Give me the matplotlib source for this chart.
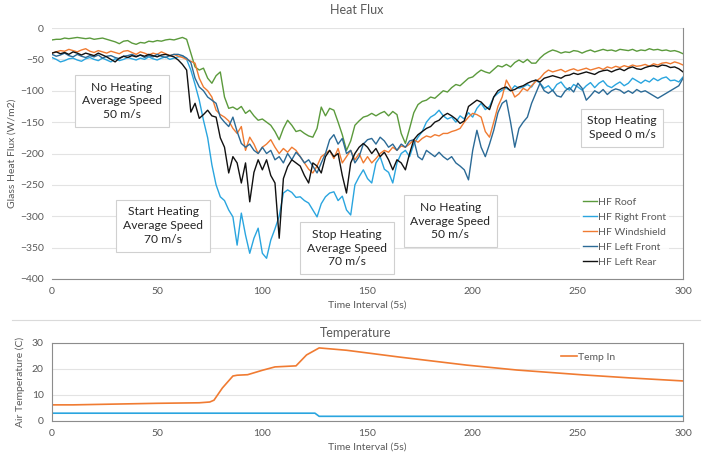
import numpy as np
import matplotlib.pyplot as plt
from matplotlib.lines import Line2D

plt.rcParams['font.family'] = ['Lato', 'DejaVu Sans']

# heat flux samples, one every 2 intervals
time = np.arange(0, 301, 2)

hf_roof = [
    -19, -18, -18, -16, -17, -16, -15, -16, -17, -16,
    -18, -17, -16, -18, -20, -22, -25, -21, -20, -24,
    -26, -23, -24, -21, -22, -20, -21, -19, -18, -19,
    -17, -15, -18, -40, -62, -67, -64, -80, -88, -76,
    -70, -110, -128, -126, -130, -125, -136, -131, -140, -147,
    -145, -150, -155, -165, -178, -160, -147, -155, -165, -163,
    -168, -172, -174, -160, -126, -140, -128, -131, -150, -170,
    -195, -180, -155, -148, -142, -140, -136, -140, -136, -133,
    -140, -133, -138, -168, -184, -160, -135, -122, -117, -115,
    -110, -112, -106, -100, -102, -95, -90, -92, -86, -80,
    -78, -72, -67, -70, -72, -66, -60, -62, -58, -62,
    -55, -51, -55, -50, -56, -56, -48, -42, -38, -35,
    -37, -40, -38, -39, -36, -37, -40, -37, -35, -38,
    -36, -34, -36, -35, -37, -34, -35, -36, -34, -37,
    -35, -36, -33, -35, -34, -36, -35, -37, -36, -38, -41,
]
hf_right_front = [
    -47, -50, -54, -52, -49, -48, -51, -53, -49, -47,
    -50, -52, -48, -51, -54, -49, -52, -50, -47, -49,
    -51, -48, -50, -46, -49, -51, -48, -46, -50, -48,
    -46, -44, -50, -67, -90, -115, -147, -175, -218, -250,
    -269, -275, -290, -301, -346, -295, -330, -359, -335, -319,
    -359, -367, -338, -320, -300, -263, -258, -262, -270, -269,
    -275, -279, -290, -301, -280, -269, -263, -261, -275, -268,
    -290, -298, -250, -237, -226, -240, -247, -215, -205, -225,
    -230, -247, -215, -200, -195, -205, -185, -174, -165, -150,
    -142, -138, -131, -140, -145, -142, -150, -140, -145, -135,
    -142, -128, -120, -130, -125, -110, -104, -99, -96, -100,
    -92, -96, -94, -90, -94, -83, -88, -96, -92, -100,
    -90, -86, -95, -99, -90, -94, -99, -92, -87, -95,
    -88, -84, -92, -95, -90, -86, -92, -88, -80, -84,
    -88, -83, -86, -80, -84, -80, -78, -84, -83, -86, -78,
]
hf_windshield = [
    -40, -38, -36, -37, -34, -36, -38, -35, -33, -37,
    -39, -36, -38, -40, -37, -39, -41, -37, -36, -39,
    -42, -38, -40, -43, -40, -42, -38, -41, -44, -42,
    -45, -47, -50, -53, -56, -80, -94, -100, -110, -131,
    -138, -142, -148, -160, -168, -157, -195, -174, -185, -200,
    -190, -185, -178, -190, -200, -192, -198, -190, -195, -205,
    -215, -225, -231, -220, -205, -200, -195, -208, -192, -215,
    -205, -195, -210, -200, -215, -205, -215, -208, -200, -195,
    -198, -190, -195, -188, -190, -185, -178, -182, -176, -172,
    -174, -170, -172, -168, -168, -165, -163, -160, -150, -142,
    -136, -138, -142, -165, -174, -150, -125, -110, -83, -95,
    -110, -105, -96, -100, -92, -85, -80, -72, -67, -70,
    -68, -66, -70, -67, -65, -68, -66, -64, -67, -65,
    -63, -66, -62, -64, -61, -63, -60, -62, -59, -61,
    -60, -58, -61, -57, -59, -56, -55, -57, -54, -56, -59,
]
hf_left_front = [
    -42, -45, -43, -40, -44, -46, -42, -45, -47, -44,
    -46, -43, -48, -45, -44, -47, -49, -45, -44, -42,
    -45, -43, -47, -44, -46, -42, -45, -47, -44, -42,
    -42, -44, -48, -55, -80, -94, -100, -110, -115, -120,
    -142, -150, -157, -142, -165, -184, -190, -185, -195, -200,
    -190, -200, -195, -210, -205, -215, -200, -210, -198, -205,
    -215, -210, -220, -231, -215, -200, -178, -170, -185, -176,
    -200, -195, -215, -205, -185, -178, -176, -185, -174, -180,
    -190, -185, -195, -185, -190, -180, -178, -205, -210, -195,
    -200, -205, -198, -205, -210, -205, -215, -220, -226, -242,
    -195, -163, -190, -205, -185, -163, -135, -120, -115, -150,
    -190, -160, -150, -142, -120, -104, -88, -100, -104, -99,
    -108, -110, -100, -95, -102, -88, -96, -115, -108, -100,
    -104, -98, -106, -100, -97, -99, -104, -100, -104, -98,
    -102, -100, -104, -108, -112, -108, -104, -100, -96, -92, -80,
]
hf_left_rear = [
    -40, -38, -41, -39, -42, -38, -40, -43, -40, -42,
    -44, -40, -43, -46, -50, -54, -48, -45, -47, -44,
    -46, -43, -45, -42, -44, -46, -43, -42, -44, -46,
    -51, -58, -67, -134, -120, -144, -138, -131, -140, -142,
    -175, -190, -231, -205, -215, -247, -215, -277, -230, -210,
    -226, -210, -235, -247, -335, -240, -221, -210, -215, -220,
    -235, -247, -215, -220, -231, -205, -195, -205, -200, -235,
    -263, -215, -200, -190, -184, -190, -200, -192, -205, -198,
    -210, -226, -210, -215, -226, -200, -178, -170, -165, -160,
    -157, -150, -147, -140, -136, -140, -145, -152, -148, -125,
    -120, -115, -118, -125, -130, -110, -100, -96, -94, -100,
    -98, -94, -92, -88, -85, -83, -86, -80, -78, -76,
    -78, -80, -76, -75, -72, -74, -72, -70, -72, -74,
    -70, -68, -67, -70, -67, -65, -68, -64, -62, -65,
    -66, -63, -61, -60, -62, -59, -60, -63, -62, -65, -70,
]

# air temperature
temp_time = [0, 10, 30, 50, 70, 75, 77, 81, 86, 88, 93, 100, 106, 116, 121, 127,
             140, 165, 197, 221, 253, 276, 300]
temp_in = [6.2, 6.2, 6.5, 6.8, 7.0, 7.3, 8.0, 12.7, 17.3, 17.6, 17.8, 19.5, 20.8,
           21.2, 25.4, 28.1, 27.2, 24.6, 21.5, 19.6, 17.7, 16.5, 15.4]
temp_out_time = [0, 125, 127, 300]
temp_out = [3.0, 3.0, 1.8, 1.8]

series = [
    ('HF Roof', hf_roof, '#5B9A3C'),
    ('HF Right Front', hf_right_front, '#2AA5DF'),
    ('HF Windshield', hf_windshield, '#F07B32'),
    ('HF Left Front', hf_left_front, '#2B6A96'),
    ('HF Left Rear', hf_left_rear, '#111111'),
]

notes = [
    (33.3, -116, 'No Heating\nAverage Speed\n50 m/s'),
    (52.8, -315, 'Start Heating\nAverage Speed\n70 m/s'),
    (140.3, -351, 'Stop Heating\nAverage Speed\n70 m/s'),
    (189.3, -308, 'No Heating\nAverage Speed\n50 m/s'),
    (271, -159, 'Stop Heating\nSpeed 0 m/s'),
]

gray = '#595959'
fig = plt.figure(figsize=(7.03, 4.57), dpi=100)
ax = fig.add_axes([0.074, 0.3895, 0.8976, 0.5492])
ax2 = fig.add_axes([0.074, 0.0788, 0.8976, 0.1707])

for name, vals, col in series:
    ax.plot(time, vals, color=col, lw=1.0, label=name)

ax.set_xlim(0, 300)
ax.set_ylim(-400, 0)
ax.set_xticks(range(0, 301, 50))
ax.set_yticks(range(-400, 1, 50))
ax.grid(axis='y', color='#E3E3E3', lw=0.8)
ax.set_axisbelow(True)
ax.tick_params(length=0, labelsize=7.5, labelcolor=gray, pad=6)
for s in ['top', 'left']:
    ax.spines[s].set_visible(False)
for s in ['bottom', 'right']:
    ax.spines[s].set_color('#8C8C8C')
ax.set_xlabel('Time Interval (5s)', fontsize=7.5, color=gray, labelpad=3)
ax.set_ylabel('Glass Heat Flux (W/m2)', fontsize=7.5, color=gray, labelpad=2)

for x, y, txt in notes:
    ax.text(x, y, txt, ha='center', va='center', multialignment='center',
            fontsize=8.7, color='#262626', linespacing=1.3, zorder=5,
            bbox=dict(boxstyle='square,pad=0.55', fc='white', ec='#D0D0D0', lw=0.8))

leg = ax.legend(loc='upper left', bbox_to_anchor=(575 / 703, 1 - 189 / 457),
                bbox_transform=fig.transFigure, frameon=True, fontsize=7.5,
                labelcolor=gray, handlelength=1.3, handletextpad=0.1,
                labelspacing=0.55, borderpad=0.3)
leg.get_frame().set_edgecolor('none')
leg.set_zorder(6)

ax2.plot(temp_time, temp_in, color='#F07B32', lw=1.2, label='Temp In')
ax2.plot(temp_out_time, temp_out, color='#2AA5DF', lw=1.2)
ax2.set_xlim(0, 300)
ax2.set_ylim(0, 30)
ax2.set_xticks(range(0, 301, 50))
ax2.set_yticks(range(0, 31, 10))
ax2.grid(axis='y', color='#E3E3E3', lw=0.8)
ax2.set_axisbelow(True)
ax2.tick_params(length=0, labelsize=7.5, labelcolor=gray, pad=6)
for s in ax2.spines.values():
    s.set_color('#8C8C8C')
ax2.set_xlabel('Time Interval (5s)', fontsize=7.5, color=gray, labelpad=3)
ax2.set_ylabel('Air Temperature (C)', fontsize=7.5, color=gray, labelpad=5)
ax2.legend(loc='center left', bbox_to_anchor=(552 / 703, 1 - 357 / 457),
           bbox_transform=fig.transFigure, frameon=False, fontsize=7.5,
           labelcolor=gray, handlelength=1.5, handletextpad=0.1)

fig.text(357 / 703, 1 - 10 / 457, 'Heat Flux', ha='center', va='center',
         fontsize=9, color=gray)
fig.text(356 / 703, 1 - 333 / 457, 'Temperature', ha='center', va='center',
         fontsize=9, color=gray)
fig.add_artist(Line2D([12 / 703, 700 / 703], [1 - 320 / 457, 1 - 320 / 457],
                      color='#DADADA', lw=0.8))

fig.savefig('out.png', dpi=100)
